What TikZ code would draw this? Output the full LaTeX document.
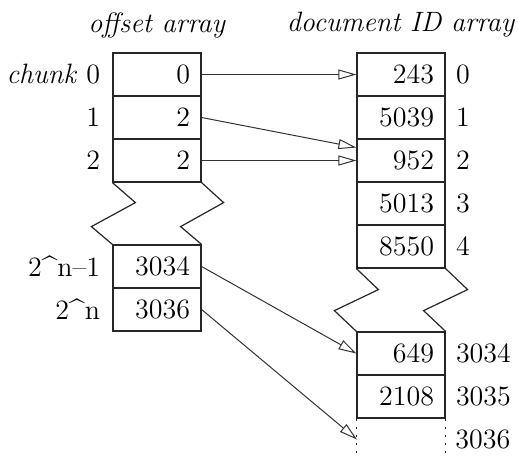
\documentclass[tikz,border=0pt]{standalone}
\usepackage{fontspec}
\usetikzlibrary{positioning,arrows.meta}
\begin{document}
\begin{tikzpicture}[x=0.5pt,y=-0.5pt,>={Triangle[open,length=9pt,width=5pt]},
  font=\fontsize{14pt}{16pt}\selectfont,
  cell/.style={draw=black!85,line width=0.6pt,minimum height=21.5pt,text width=33pt,inner xsep=5.5pt,inner ysep=0pt,align=right},
  idx/.style={inner sep=0pt},
  zig/.style={draw=black!85,line width=0.6pt},
  ptr/.style={->,black!80,line width=0.5pt}]
  \useasboundingbox (0,0) rectangle (518,457);
  % titles
  \node (offtitle) at (157,25) {\textit{offset array}};
  \node (doctitle) at (401,25) {\textit{document ID array}};
  % offset array
  \node[cell] (off0) at (157,74.5) {0};
  \node[cell] (off1) at (157,117.5) {2};
  \node[cell] (off2) at (157,160.5) {2};
  \node[cell] (off3) at (157,266.5) {3034};
  \node[cell] (off4) at (157,309.5) {3036};
  \node[idx,left=6pt of off0] (chunk0) {\textit{chunk} 0};
  \node[idx,left=6pt of off1] (chunk1) {1};
  \node[idx,left=6pt of off2] (chunk2) {2};
  \node[idx,left=6pt of off3] (chunk3) {2\string^n–1};
  \node[idx,left=6pt of off4] (chunk4) {2\string^n};
  \draw[zig] (off2.south west) -- ++(23,20) -- ++(-44,24) -- (off3.north west);
  \draw[zig] (off2.south east) -- ++(22,20) -- ++(-43,24) -- (off3.north east);
  % document ID array
  \node[cell] (doc0) at (401,74.5) {243};
  \node[cell] (doc1) at (401,117.5) {5039};
  \node[cell] (doc2) at (401,160.5) {952};
  \node[cell] (doc3) at (401,203.5) {5013};
  \node[cell] (doc4) at (401,246.5) {8550};
  \node[cell] (doc5) at (401,353.5) {649};
  \node[cell] (doc6) at (401,396.5) {2108};
  \coordinate (doc7w) at (357,439.5);
  \coordinate (doc7e) at (445,439.5);
  \node[idx,right=5pt of doc0] (pos0) {0};
  \node[idx,right=5pt of doc1] (pos1) {1};
  \node[idx,right=5pt of doc2] (pos2) {2};
  \node[idx,right=5pt of doc3] (pos3) {3};
  \node[idx,right=5pt of doc4] (pos4) {4};
  \node[idx,right=5pt of doc5] (pos5) {3034};
  \node[idx,right=5pt of doc6] (pos6) {3035};
  \node[idx,right=5pt of doc7e] (pos7) {3036};
  \draw[zig] (doc4.south west) -- ++(22,21) -- ++(-44,21) -- (doc5.north west);
  \draw[zig] (doc4.south east) -- ++(22,21) -- ++(-44,21) -- (doc5.north east);
  \draw[zig,dash pattern=on 1pt off 3pt] (doc6.south west) -- ++(0,40);
  \draw[zig,dash pattern=on 1pt off 3pt] (doc6.south east) -- ++(0,40);
  % pointers
  \draw[ptr] (off0.east) -- (doc0.west);
  \draw[ptr] (off1.east) -- ([yshift=6.5pt]doc2.west);
  \draw[ptr] (off2.east) -- (doc2.west);
  \draw[ptr] (off3.east) -- (doc5.west);
  \draw[ptr] (off4.east) -- (doc7w);
\end{tikzpicture}
\end{document}
